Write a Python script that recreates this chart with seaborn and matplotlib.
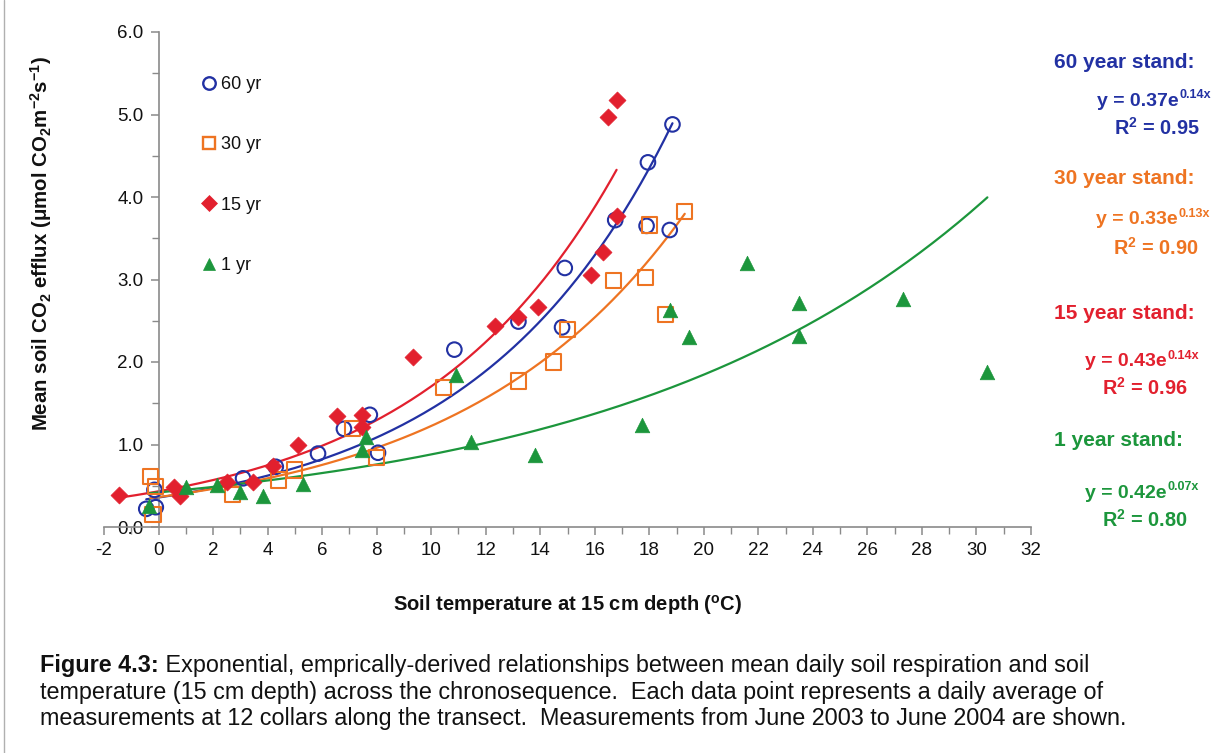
import numpy as np
import pandas as pd
import matplotlib
matplotlib.use("Agg")
import matplotlib.pyplot as plt
from matplotlib.lines import Line2D
import seaborn as sns

# ---------------- data ----------------
x60 = [-0.45, -0.15, -0.1, 3.1, 4.3, 5.85, 6.8, 7.75, 8.05, 10.85, 13.2, 14.8, 14.9, 16.75, 17.9, 18.75, 17.95, 18.85]
y60 = [0.22, 0.45, 0.24, 0.59, 0.73, 0.89, 1.19, 1.36, 0.90, 2.15, 2.49, 2.42, 3.14, 3.72, 3.65, 3.60, 4.42, 4.88]

x30 = [-0.3, -0.1, -0.2, 2.7, 4.4, 5.0, 7.1, 8.0, 10.45, 13.2, 14.5, 15.0, 16.7, 17.85, 18.6, 18.0, 19.3]
y30 = [0.61, 0.49, 0.15, 0.39, 0.57, 0.69, 1.19, 0.84, 1.69, 1.77, 2.00, 2.39, 2.99, 3.02, 2.58, 3.66, 3.82]

x15 = [-1.45, 0.55, 0.8, 2.5, 3.45, 4.2, 5.1, 6.55, 7.45, 7.45, 9.35, 12.35, 13.2, 13.9, 15.85, 16.3, 16.8, 16.5, 16.8]
y15 = [0.39, 0.49, 0.37, 0.55, 0.55, 0.74, 0.99, 1.35, 1.36, 1.21, 2.06, 2.44, 2.54, 2.67, 3.05, 3.33, 3.77, 4.97, 5.18]

x1 = [-0.35, 1.0, 2.15, 3.0, 3.85, 5.3, 7.45, 7.6, 10.9, 11.45, 13.8, 17.75, 18.75, 19.45, 21.6, 23.5, 23.5, 27.3, 30.4]
y1 = [0.25, 0.48, 0.51, 0.43, 0.37, 0.52, 0.93, 1.09, 1.84, 1.03, 0.87, 1.24, 2.63, 2.30, 3.20, 2.72, 2.32, 2.76, 1.88]

labels = ["60 yr", "30 yr", "15 yr", "1 yr"]
stand_titles = ["60 year stand:", "30 year stand:", "15 year stand:", "1 year stand:"]
eq_a = ["0.37", "0.33", "0.43", "0.42"]
eq_b = ["0.14", "0.13", "0.14", "0.07"]
r2 = ["0.95", "0.90", "0.96", "0.80"]

xticks = list(range(-2, 33, 2))
yticks = [0.0, 1.0, 2.0, 3.0, 4.0, 5.0, 6.0]

# ---------------- style ----------------
sns.set_theme(style="white")
plt.rcParams["font.family"] = ["Liberation Sans", "DejaVu Sans"]
plt.rcParams["mathtext.fontset"] = "custom"
plt.rcParams["mathtext.rm"] = "Liberation Sans"
plt.rcParams["mathtext.bf"] = "Liberation Sans:bold"
plt.rcParams["mathtext.it"] = "Liberation Sans:italic"
plt.rcParams["mathtext.default"] = "bf"

BLUE = "#2231A3"
ORANGE = "#EE7422"
RED = "#E2202E"
GREEN = "#1C963C"
colors = [BLUE, ORANGE, RED, GREEN]

W, H = 1214, 753
fig = plt.figure(figsize=(W / 100, H / 100), dpi=100)
fig.patch.set_facecolor("white")

def fx(px):
    return px / W

def fy(py):
    return 1 - py / H

ax = fig.add_axes([fx(104), fy(527), (1031 - 104) / W, (527 - 32) / H])
ax.set_facecolor("white")

df = pd.concat([
    pd.DataFrame({"temp": x60, "flux": y60, "stand": labels[0]}),
    pd.DataFrame({"temp": x30, "flux": y30, "stand": labels[1]}),
    pd.DataFrame({"temp": x15, "flux": y15, "stand": labels[2]}),
    pd.DataFrame({"temp": x1, "flux": y1, "stand": labels[3]}),
], ignore_index=True)

markers = ["o", "s", "D", "^"]
sizes = [110, 120, 75, 110]
open_marker = [True, True, False, False]

handles = []
for lab, c, m, s, op in zip(labels, colors, markers, sizes, open_marker):
    sub = df[df["stand"] == lab]
    # exponential trend line fitted to the series (least squares in log space)
    b, ln_a = np.polyfit(sub["temp"], np.log(sub["flux"]), 1)
    xs = np.linspace(sub["temp"].min(), sub["temp"].max(), 200)
    ax.plot(xs, np.exp(ln_a) * np.exp(b * xs), color=c, lw=1.6, zorder=2)
    if op:
        sns.scatterplot(x=sub["temp"], y=sub["flux"], ax=ax, marker=m, s=s,
                        facecolor="none", edgecolor=c, linewidth=1.5, zorder=3)
    else:
        sns.scatterplot(x=sub["temp"], y=sub["flux"], ax=ax, marker=m, s=s,
                        color=c, edgecolor=c, linewidth=0.5, zorder=3)
    handles.append(Line2D([], [], ls="none", marker=m,
                          markersize=9 if m != "D" else 8,
                          markerfacecolor="none" if op else c,
                          markeredgecolor=c, markeredgewidth=1.7 if op else 0.5))

ax.set_xlim(-2, 32)
ax.set_ylim(0, 6)
ax.set_xticks(xticks)
ax.set_xticklabels([str(t) for t in xticks])
ax.set_xticks(list(range(-1, 32, 2)), minor=True)
ax.set_yticks(yticks)
ax.set_yticklabels([f"{t:.1f}" for t in yticks])
ax.set_yticks([0.5, 1.5, 2.5, 3.5, 4.5, 5.5], minor=True)
ax.set_xlabel("")
ax.set_ylabel("")

for side in ["top", "right"]:
    ax.spines[side].set_visible(False)
ax.spines["left"].set_position(("data", 0))
ax.spines["bottom"].set_position(("data", 0))
for side in ["left", "bottom"]:
    ax.spines[side].set_color("#8a8a8a")
    ax.spines[side].set_linewidth(1.2)

ax.tick_params(axis="both", which="major", direction="out", length=6, width=1.1,
               color="#8a8a8a", labelsize=13.5, labelcolor="#111111", pad=5)
ax.tick_params(axis="both", which="minor", direction="out", length=5, width=1.0,
               color="#8a8a8a")
ax.tick_params(axis="x", which="both", bottom=True)
ax.tick_params(axis="y", which="both", left=True)

leg = ax.legend(handles, labels, loc="upper left",
                bbox_to_anchor=(fx(203), fy(76)), bbox_transform=fig.transFigure,
                frameon=False, fontsize=13, labelspacing=2.4, handlelength=0.7,
                handletextpad=0.3, borderpad=0, borderaxespad=0)
for t in leg.get_texts():
    t.set_color("#111111")

# axis titles
fig.text(fx(568), fy(605), r"Soil temperature at 15 cm depth ($\mathbf{^{o}}$C)",
         ha="center", va="center", fontsize=14.5, fontweight="bold", color="#111111")
fig.text(fx(41), fy(244),
         r"Mean soil CO$_{2}$ efflux ($\mathbf{\mu}$mol CO$_{2}$m$^{-2}$s$^{-1}$)",
         ha="center", va="center", rotation=90, fontsize=14.7, fontweight="bold",
         color="#111111")

# right-hand annotations
title_y = [63, 178, 313, 440]
eq_y = [101, 220, 362, 493]
r2_y = [128, 248, 388, 520]
eq_x = [1097, 1096, 1085, 1085]
r2_x = [1114, 1113, 1102, 1102]
for i in range(4):
    fig.text(fx(1054), fy(title_y[i]), stand_titles[i], ha="left", va="center",
             fontsize=15, fontweight="bold", color=colors[i])
    base = fig.text(fx(eq_x[i]), fy(eq_y[i]), "y = " + eq_a[i] + "e",
                    ha="left", va="center", fontsize=14, fontweight="bold",
                    color=colors[i])
    ax.annotate(eq_b[i] + "x", xy=(1, 1), xycoords=base, xytext=(0.5, -6),
                textcoords="offset points", ha="left", va="bottom",
                fontsize=9, fontweight="bold", color=colors[i],
                annotation_clip=False)
    fig.text(fx(r2_x[i]), fy(r2_y[i]), "R$^{2}$ = " + r2[i], ha="left", va="center",
             fontsize=14.3, fontweight="bold", color=colors[i])

# caption
CAP = 16.8
cap_bold = fig.text(fx(40), fy(672), "Figure 4.3:", ha="left", va="baseline",
                    fontsize=CAP, fontweight="bold", color="#111111")
ax.annotate(" Exponential, emprically-derived relationships between mean daily soil respiration and soil",
            xy=(1, 0), xycoords=cap_bold, ha="left", va="bottom",
            fontsize=CAP, color="#111111", annotation_clip=False)
fig.text(fx(40), fy(699),
         "temperature (15 cm depth) across the chronosequence.  Each data point represents a daily average of",
         ha="left", va="baseline", fontsize=CAP, color="#111111")
fig.text(fx(40), fy(725),
         "measurements at 12 collars along the transect.  Measurements from June 2003 to June 2004 are shown.",
         ha="left", va="baseline", fontsize=CAP, color="#111111")

# thin scan border at left edge
fig.add_artist(plt.Line2D([fx(4), fx(4)], [0, 1], transform=fig.transFigure,
                          color="#b0b0b0", lw=1))

fig.savefig("out.png", dpi=100, facecolor="white")
